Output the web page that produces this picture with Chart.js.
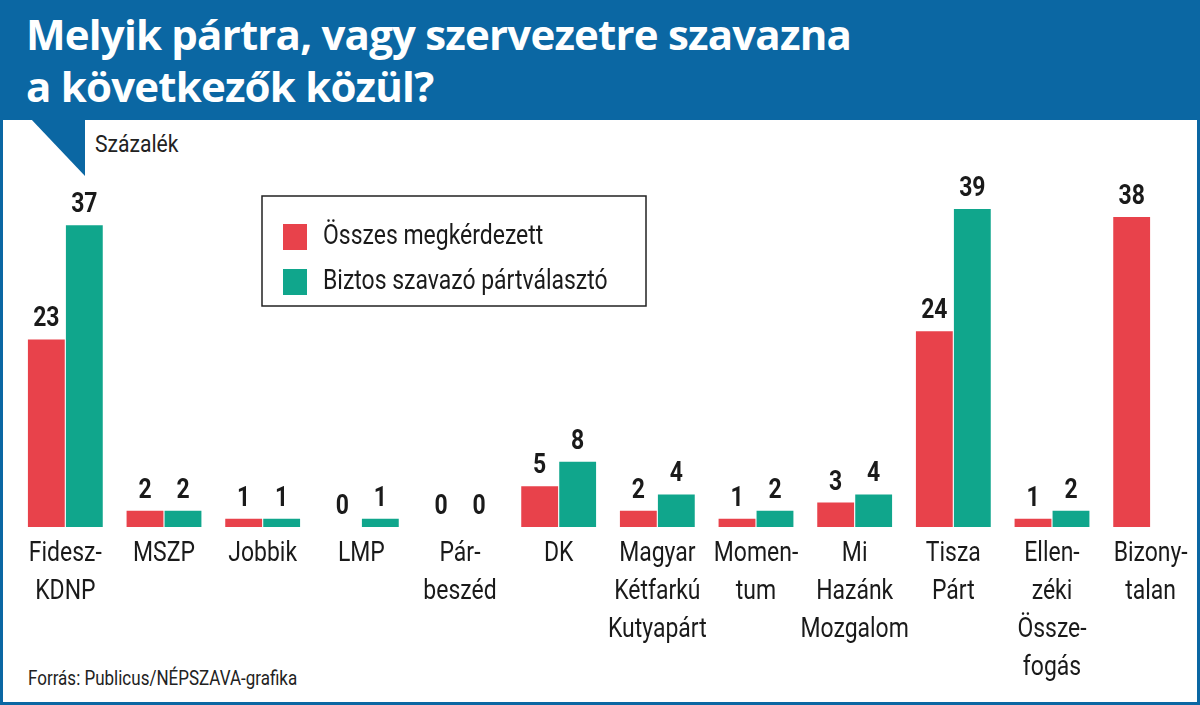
<!DOCTYPE html>
<html><head><meta charset="utf-8">
<script src="https://cdn.jsdelivr.net/npm/chart.js@4"></script>
<style>
html,body{margin:0;padding:0;background:#fff;}
#wrap{position:relative;width:1200px;height:705px;overflow:hidden;}
#frame{position:absolute;left:0;top:0;width:1194px;height:699px;border:3px solid #0b67a3;}
#head{position:absolute;left:0;top:0;width:1200px;height:120px;background:#0b67a3;}
#title{position:absolute;left:26px;top:8px;color:#fff;font:bold 42px "Open Sans",sans-serif;line-height:52px;letter-spacing:-0.8px;}
#ptr{position:absolute;left:0;top:118px;}
#unit{position:absolute;left:95px;top:130px;font:24px "Liberation Sans Narrow","Roboto",sans-serif;color:#222;transform:scaleX(0.88);transform-origin:left;}
#src{position:absolute;left:28px;top:666px;font:20px "Liberation Sans Narrow","Roboto",sans-serif;color:#222;transform:scaleX(0.85);transform-origin:left;}
canvas{position:absolute;left:0;top:0;}
</style></head><body>
<div id="wrap">
<div id="frame"></div>
<div id="head"><div id="title">Melyik pártra, vagy szervezetre szavazna<br>a következők közül?</div></div>
<svg id="ptr" width="100" height="62"><polygon points="30,0 85,0 85,58" fill="#0b67a3"/></svg>
<div id="unit">Százalék</div>
<div id="src">Forrás: Publicus/NÉPSZAVA-grafika</div>
<canvas id="c" width="1200" height="705"></canvas>
</div>
<script>
const categories = [["Fidesz-","KDNP"],["MSZP"],["Jobbik"],["LMP"],["Pár-","beszéd"],["DK"],["Magyar","Kétfarkú","Kutyapárt"],["Momen-","tum"],["Mi","Hazánk","Mozgalom"],["Tisza","Párt"],["Ellen-","zéki","Össze-","fogás"],["Bizony-","talan"]];
const osszes = [23,2,1,0,0,5,2,1,3,24,1,38];
const biztos = [37,2,1,1,0,8,4,2,4,39,2,null];
const seriesNames = ["Összes megkérdezett","Biztos szavazó pártválasztó"];
const colors = ["#e8424b","#10a68c"];
const FONT = '"Liberation Sans Narrow","Roboto",sans-serif';
const SX = 0.82;

function txt(ctx, t, x, y){
  ctx.save(); ctx.translate(x,y); ctx.scale(SX,1); ctx.fillText(t,0,0); ctx.restore();
}

const custom = {
  id:'custom',
  afterDatasetsDraw(chart){
    const ctx = chart.ctx;
    const x = chart.scales.x;
    ctx.save();
    ctx.fillStyle = '#1a1a1a';
    ctx.textAlign = 'center';
    ctx.font = 'bold 28px ' + FONT;
    ctx.textBaseline = 'bottom';
    chart.data.datasets.forEach((ds,i)=>{
      chart.getDatasetMeta(i).data.forEach((bar,j)=>{
        if (ds.data[j]===null) return;
        txt(ctx, String(ds.data[j]), bar.x, bar.y - 6);
      });
    });
    ctx.font = '28px ' + FONT;
    ctx.textBaseline = 'top';
    categories.forEach((lines,j)=>{
      const cx = x.getPixelForValue(j);
      lines.forEach((t,k)=> txt(ctx, t, cx, 540 + k*38));
    });
    ctx.strokeStyle = '#222'; ctx.lineWidth = 1.5;
    ctx.strokeRect(262, 196, 384, 110);
    ctx.textAlign = 'left'; ctx.textBaseline = 'middle';
    chart.data.datasets.forEach((ds,i)=>{
      const y = 237 + i*45;
      ctx.fillStyle = ds.backgroundColor;
      ctx.fillRect(283, y-13, 24, 26);
      ctx.fillStyle = '#1a1a1a';
      txt(ctx, ds.label, 323, y);
    });
    ctx.restore();
  }
};

new Chart(document.getElementById('c'), {
  type:'bar',
  data:{
    labels: categories.map(l=>l.join(' ')),
    datasets:[
      {label:seriesNames[0], data:osszes, backgroundColor:colors[0]},
      {label:seriesNames[1], data:biztos, backgroundColor:colors[1]}
    ]
  },
  options:{
    responsive:false, animation:false, devicePixelRatio:1,
    layout:{padding:{left:16,right:0,top:160,bottom:178}},
    plugins:{legend:{display:false},tooltip:{enabled:false}},
    datasets:{bar:{categoryPercentage:0.77,barPercentage:0.97}},
    scales:{
      x:{display:false,grid:{display:false}},
      y:{display:false,min:0,max:45,grid:{display:false}}
    }
  },
  plugins:[custom]
});
</script>
</body></html>
